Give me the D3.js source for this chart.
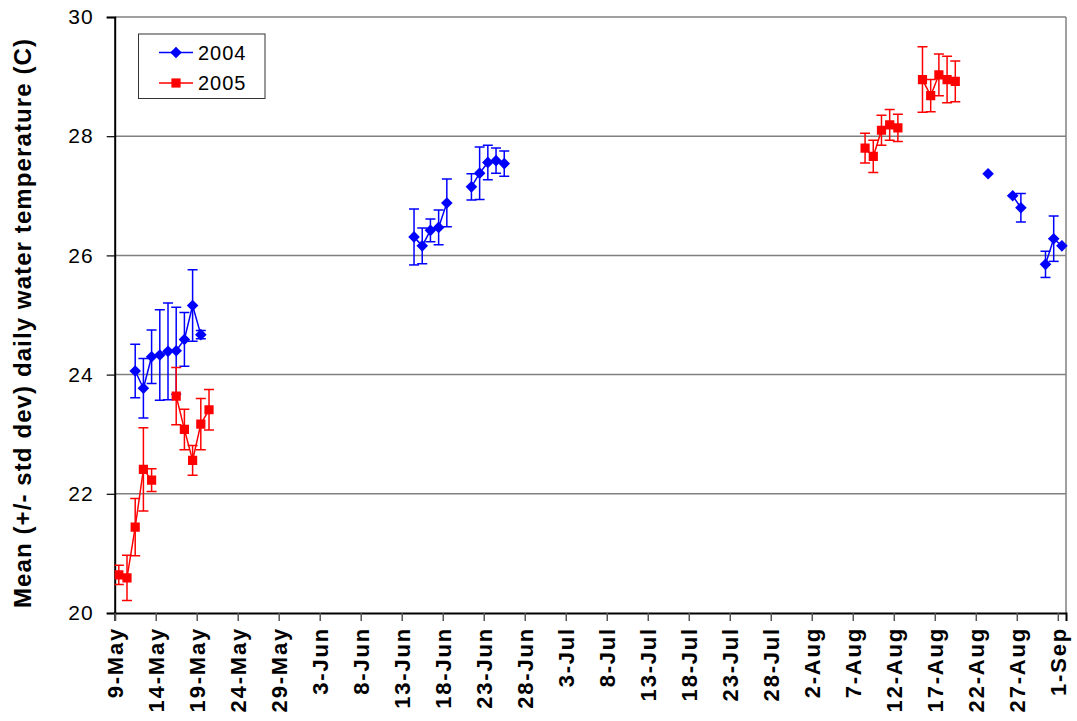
<!DOCTYPE html>
<html>
<head>
<meta charset="utf-8">
<script src="https://cdn.jsdelivr.net/npm/d3@7"></script>
<style>
  html, body { margin: 0; padding: 0; background: #fff; }
  svg { display: block; font-family: "Liberation Sans", Arial, sans-serif; }
</style>
</head>
<body>
<svg id="chart" width="1077" height="721"></svg>
<script>
// Daily mean water temperature (with standard deviation), two seasons
const dates2004 = ["05-11","05-12","05-13","05-14","05-15","05-16","05-17","05-18","05-19",
                   "06-14","06-15","06-16","06-17","06-18",
                   "06-21","06-22","06-23","06-24","06-25",
                   "08-23","08-26","08-27","08-30","08-31","09-01"];
const mean2004 = [24.06,23.77,24.30,24.33,24.39,24.40,24.59,25.16,24.67,
                  26.31,26.16,26.42,26.47,26.88,
                  27.15,27.38,27.56,27.59,27.54,
                  27.37,27.00,26.80,25.85,26.28,26.16];
const sd2004   = [0.45,0.50,0.45,0.76,0.81,0.73,0.45,0.60,0.07,
                  0.47,0.30,0.19,0.29,0.40,
                  0.22,0.44,0.29,0.21,0.21,
                  0,0,0.24,0.22,0.38,0];

const dates2005 = ["05-09","05-10","05-11","05-12","05-13",
                   "05-16","05-17","05-18","05-19","05-20",
                   "08-08","08-09","08-10","08-11","08-12",
                   "08-15","08-16","08-17","08-18","08-19"];
const mean2005 = [20.64,20.59,21.44,22.41,22.23,
                  23.64,23.08,22.56,23.17,23.41,
                  27.80,27.66,28.10,28.19,28.14,
                  28.95,28.68,29.03,28.95,28.92];
const sd2005   = [0.16,0.38,0.48,0.70,0.19,
                  0.48,0.34,0.25,0.43,0.34,
                  0.25,0.27,0.25,0.26,0.23,
                  0.55,0.27,0.35,0.39,0.34];

const seriesNames = ["2004", "2005"];
const yTicks = [20, 22, 24, 26, 28, 30];
const axisStart = "05-09", axisEnd = "09-02";

(function draw() {
  const W = 1077, H = 721;
  const pL = 114.7, pR = 1066, pT = 17, pB = 613;

  const parse = s => new Date(2004, +s.slice(0, 2) - 1, +s.slice(3, 5));
  const DAY = 864e5;

  const x = d3.scaleTime().domain([parse(axisStart), parse(axisEnd)]).range([pL, pR]);
  const y = d3.scaleLinear().domain([20, 30]).range([pB, pT]);
  // each date occupies one day slot; marks sit in the middle of it
  const xc = d => x(new Date(d.getTime() + DAY / 2));

  const svg = d3.select("#chart");
  svg.append("rect").attr("width", W).attr("height", H).attr("fill", "#fff");

  // gridlines and plot border
  svg.append("g").selectAll("line").data(yTicks.filter(v => v > 20)).join("line")
    .attr("x1", pL).attr("x2", pR)
    .attr("y1", d => y(d)).attr("y2", d => y(d))
    .attr("stroke", "#808080").attr("stroke-width", 1.5);
  svg.append("line").attr("x1", pR).attr("x2", pR).attr("y1", pT).attr("y2", pB)
    .attr("stroke", "#808080").attr("stroke-width", 1.5);

  // y axis
  const yAxis = svg.append("g").attr("transform", `translate(${pL},0)`)
    .call(d3.axisLeft(y).tickValues(yTicks).tickSize(8).tickPadding(13).tickFormat(d3.format("d")));
  yAxis.select(".domain").attr("stroke", "#000").attr("stroke-width", 2);
  yAxis.selectAll(".tick line").attr("stroke", "#000").attr("stroke-width", 1.2);
  yAxis.selectAll(".tick text").attr("font-size", 21).attr("fill", "#000")
    .attr("font-family", "Liberation Sans, Arial, sans-serif").style("letter-spacing", "1px");

  // x axis
  const xTickDates = d3.timeDay.range(parse(axisStart), parse(axisEnd), 1)
    .filter((d, i) => i % 5 === 0);
  const xAxis = svg.append("g").attr("transform", `translate(0,${pB})`)
    .call(d3.axisBottom(x).tickValues(xTickDates).tickSize(8).tickFormat(d3.timeFormat("%-d-%b")));
  xAxis.select(".domain").attr("stroke", "#000").attr("stroke-width", 2);
  xAxis.selectAll(".tick line").attr("stroke", "#555").attr("stroke-width", 1.5);
  xAxis.selectAll(".tick text")
    .attr("font-size", 22).attr("font-weight", "bold").attr("fill", "#000")
    .attr("font-family", "Liberation Sans, Arial, sans-serif")
    .style("letter-spacing", "1.8px")
    .attr("text-anchor", "end")
    .attr("transform", "rotate(-90)")
    .attr("x", -14).attr("y", 0).attr("dy", "0.36em");

  // y title
  svg.append("text")
    .attr("transform", `translate(31,${(36 + 610) / 2}) rotate(-90)`)
    .attr("text-anchor", "middle")
    .attr("font-size", 24).attr("font-weight", "bold")
    .style("letter-spacing", "1.1px")
    .text("Mean (+/- std dev) daily water temperature (C)");

  // series
  svg.append("clipPath").attr("id", "plotclip").append("rect")
    .attr("x", pL).attr("y", pT - 10).attr("width", pR - pL + 10).attr("height", pB - pT + 10);

  const build = (dates, means, sds) =>
    dates.map((s, i) => ({ date: parse(s), mean: means[i], sd: sds[i] }));
  function segments(pts) {
    const segs = [];
    let cur = [];
    pts.forEach((p, i) => {
      if (i > 0 && (p.date - pts[i - 1].date) > DAY * 1.5) { segs.push(cur); cur = []; }
      cur.push(p);
    });
    if (cur.length) segs.push(cur);
    return segs;
  }

  const series = [
    { name: seriesNames[0], color: "#0000FF", shape: "diamond", pts: build(dates2004, mean2004, sd2004) },
    { name: seriesNames[1], color: "#FF0000", shape: "square",  pts: build(dates2005, mean2005, sd2005) }
  ];

  const line = d3.line().x(d => xc(d.date)).y(d => y(d.mean));
  const diamond = "M0,-5.8L5.8,0L0,5.8L-5.8,0Z";
  const square = "M-4.6,-4.6H4.6V4.6H-4.6Z";

  const plot = svg.append("g").attr("clip-path", "url(#plotclip)");
  series.forEach(s => {
    const g = plot.append("g");
    const bars = s.pts.filter(p => p.sd > 0);
    const capW = 5;
    g.selectAll("line.eb").data(bars).join("line").attr("class", "eb")
      .attr("x1", d => xc(d.date)).attr("x2", d => xc(d.date))
      .attr("y1", d => y(d.mean + d.sd)).attr("y2", d => y(d.mean - d.sd))
      .attr("stroke", s.color).attr("stroke-width", 1.5);
    g.selectAll("line.capT").data(bars).join("line").attr("class", "capT")
      .attr("x1", d => xc(d.date) - capW).attr("x2", d => xc(d.date) + capW)
      .attr("y1", d => y(d.mean + d.sd)).attr("y2", d => y(d.mean + d.sd))
      .attr("stroke", s.color).attr("stroke-width", 1.5);
    g.selectAll("line.capB").data(bars).join("line").attr("class", "capB")
      .attr("x1", d => xc(d.date) - capW).attr("x2", d => xc(d.date) + capW)
      .attr("y1", d => y(d.mean - d.sd)).attr("y2", d => y(d.mean - d.sd))
      .attr("stroke", s.color).attr("stroke-width", 1.5);
    g.selectAll("path.seg").data(segments(s.pts)).join("path").attr("class", "seg")
      .attr("d", line).attr("fill", "none").attr("stroke", s.color).attr("stroke-width", 1.5);
    g.selectAll("path.mk").data(s.pts).join("path").attr("class", "mk")
      .attr("transform", d => `translate(${xc(d.date)},${y(d.mean)})`)
      .attr("d", s.shape === "diamond" ? diamond : square)
      .attr("fill", s.color);
  });

  // legend
  const lg = svg.append("g");
  lg.append("rect").attr("x", 138.5).attr("y", 34).attr("width", 126.5).attr("height", 64.5)
    .attr("fill", "#fff").attr("stroke", "#333").attr("stroke-width", 1);
  series.forEach((s, i) => {
    const cy = 52.5 + i * 30.5;
    lg.append("line").attr("x1", 159).attr("x2", 193).attr("y1", cy).attr("y2", cy)
      .attr("stroke", s.color).attr("stroke-width", 1.5);
    lg.append("path").attr("transform", `translate(176,${cy})`)
      .attr("d", s.shape === "diamond" ? diamond : square).attr("fill", s.color);
    lg.append("text").attr("x", 198).attr("y", cy).attr("dy", "0.36em")
      .attr("font-size", 20).style("letter-spacing", "1px").text(s.name);
  });
})();
</script>
</body>
</html>
